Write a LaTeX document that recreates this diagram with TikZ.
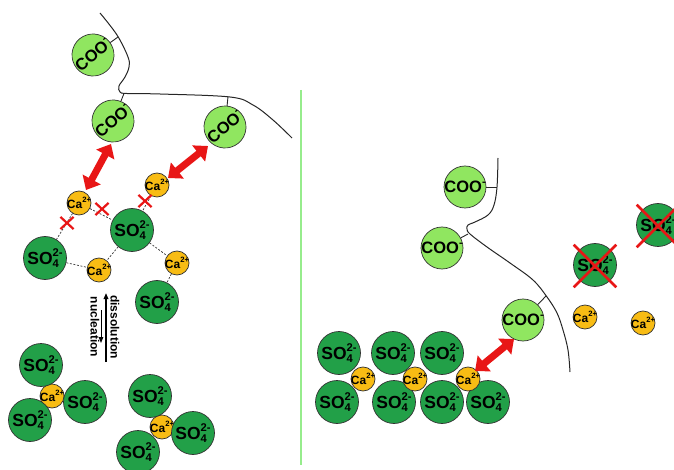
\documentclass[tikz,border=0pt]{standalone}
\usepackage{fontspec}
\setmainfont{Liberation Sans}
\usepackage{graphicx}
\usetikzlibrary{arrows.meta,shapes.misc}

\definecolor{sulfate}{RGB}{34,160,72}
\definecolor{carboxyl}{RGB}{144,230,96}
\definecolor{calcium}{RGB}{248,188,20}
\definecolor{bondred}{RGB}{232,22,22}
\definecolor{divider}{RGB}{150,236,140}
\definecolor{rim}{RGB}{50,50,50}

% ion labels: stacked sub/superscripts, zero width so circles keep their size
\newcommand{\scr}[1]{\scalebox{0.64}{#1}}
\newcommand{\sulf}{\makebox[0pt]{SO\rlap{\raisebox{-0.3ex}{\scr{4}}}\raisebox{0.85ex}{\scr{2-}}}}
\newcommand{\calc}{\makebox[0pt]{Ca\raisebox{0.85ex}{\scr{2+}}}}
\newcommand{\carb}{\makebox[0pt]{COO\raisebox{0.85ex}{\scr{-}}}}

\tikzset{
  ion/.style={circle, draw=rim, line width=0.7pt, inner sep=0pt},
  so/.style={ion, fill=sulfate, minimum size=43pt, font=\bfseries\fontsize{17.5}{17.5}\selectfont},
  ca/.style={ion, fill=calcium, minimum size=24pt, font=\bfseries\fontsize{12}{12}\selectfont},
  coo/.style={ion, fill=carboxyl, minimum size=42pt, font=\bfseries\fontsize{16.5}{16.5}\selectfont},
  chain/.style={line width=1pt, draw=black!85},
  stub/.style={line width=0.9pt, draw=black!85},
  bond/.style={dashed, dash pattern=on 2pt off 1.6pt, line width=0.7pt, draw=black!80},
  nope/.style={cross out, draw=bondred, line width=2.2pt, minimum width=11pt, minimum height=10pt, inner sep=0pt},
  bignope/.style={cross out, draw=bondred, line width=2.6pt, minimum size=40pt, inner sep=0pt},
  bigarrow/.style={draw=bondred, line width=7pt,
    {Triangle[length=12pt,width=20pt]}-{Triangle[length=12pt,width=20pt]}},
  thinarrow/.style={draw=black, -{Triangle[length=6pt,width=4.5pt]}},
  caption/.style={font=\bfseries\fontsize{12}{12}\selectfont, rotate=-90, inner sep=0pt}
}

\begin{document}
\begin{tikzpicture}[x=1pt, y=-1pt]
\useasboundingbox (0,0) rectangle (674,470);

% ---------------- left panel ----------------
% polymer backbone
\draw[chain] plot[smooth, tension=0.6] coordinates {
  (100,13) (117,35) (128,57) (129,67) (125,77) (119,86) (120,92) (127,93.5)
  (160,94) (230,97) (253,105) (273,120) (292,138)};
\coordinate (la1) at (118,37);
\coordinate (la2) at (124,93.5);
\coordinate (la3) at (228,96.5);

\node[coo, rotate=40] (lc1) at (93,55) {\carb};
\node[coo, rotate=40] (lc2) at (113,121) {\carb};
\node[coo, rotate=40] (lc3) at (225,127) {\carb};
\draw[stub] (lc1) -- (la1);
\draw[stub] (lc2) -- (la2);
\draw[stub] (lc3) -- (la3);

% dissolving ion network
\node[ca] (ca1) at (79,203) {\calc};
\node[ca] (ca2) at (157,185) {\calc};
\node[ca] (ca3) at (99,270) {\calc};
\node[ca] (ca4) at (177,263) {\calc};
\node[so] (so1) at (132,230) {\sulf};
\node[so] (so2) at (45,258) {\sulf};
\node[so] (so3) at (157,302) {\sulf};

\draw[bond] (ca1) -- (so2);
\draw[bond] (ca1) -- (so1);
\draw[bond] (ca2) -- (so1);
\draw[bond] (so2) -- (ca3);
\draw[bond] (so1) -- (ca3);
\draw[bond] (so1) -- (ca4);
\draw[bond] (ca4) -- (so3);

\node[nope] (x1) at (67,223) {};
\node[nope] (x2) at (102,209) {};
\node[nope] (x3) at (145,201) {};

% carboxylate--calcium attraction
\coordinate (a1s) at (86,190);
\coordinate (a1e) at (111,144);
\coordinate (a2s) at (168,178);
\coordinate (a2e) at (208,146);
\draw[bigarrow] (a1s) -- (a1e);
\draw[bigarrow] (a2s) -- (a2e);

% dissolution / nucleation equilibrium
\coordinate (up1) at (106,362);
\coordinate (up2) at (106,293);
\coordinate (dn1) at (101,310);
\coordinate (dn2) at (101,343);
\draw[thinarrow, line width=1.5pt] (up1) -- (up2);
\draw[thinarrow, line width=1pt] (dn1) -- (dn2);
\node[caption] (diss) at (115,327) {dissolution};
\node[caption] (nucl) at (95,327) {nucleation};

% small clusters
\node[ca] (k1) at (52,396) {\calc};
\node[so] (k1a) at (41,365) {\sulf};
\node[so] (k1b) at (85,402) {\sulf};
\node[so] (k1c) at (30,420) {\sulf};

\node[ca] (k2) at (162,427) {\calc};
\node[so] (k2a) at (150,396) {\sulf};
\node[so] (k2b) at (193,433) {\sulf};
\node[so] (k2c) at (138,452) {\sulf};

% divider
\coordinate (dv1) at (301,90);
\coordinate (dv2) at (301,465);
\draw[divider, line width=1.5pt] (dv1) -- (dv2);

% ---------------- right panel ----------------
\draw[chain] plot[smooth, tension=0.6] coordinates {
  (498,158) (497,187) (494,205) (488,215) (475,222) (468,225) (467,229)
  (470,234) (487,247) (510,263) (533,280) (547,297) (557,313) (563,330)
  (568,350) (570,372)};
\coordinate (ra1) at (497,187);
\coordinate (ra2) at (468,234);
\coordinate (ra3) at (546,296);

\node[coo] (rc1) at (465,187) {\carb};
\node[coo] (rc2) at (442,248) {\carb};
\node[coo] (rc3) at (523,320) {\carb};
\draw[stub] (rc1) -- (ra1);
\draw[stub] (rc2) -- (ra2);
\draw[stub] (rc3) -- (ra3);

% ions kept out of solution
\node[so] (fs1) at (595,265) {\sulf};
\node[so] (fs2) at (658,225) {\sulf};
\node[bignope] (fx1) at (595,266) {};
\node[bignope] (fx2) at (658,226) {};
\node[ca] (fc1) at (585,317) {\calc};
\node[ca] (fc2) at (643,323) {\calc};

% crystal surface
\node[so] (t1) at (339,353) {\sulf};
\node[so] (t2) at (393,353) {\sulf};
\node[so] (t3) at (442,353) {\sulf};
\node[so] (b1) at (337,402) {\sulf};
\node[so] (b2) at (394,402) {\sulf};
\node[so] (b3) at (442,402) {\sulf};
\node[so] (b4) at (488,402) {\sulf};
\node[ca] (m1) at (363,379) {\calc};
\node[ca] (m2) at (415,379) {\calc};
\node[ca] (m3) at (468,379) {\calc};

\coordinate (a3s) at (475,371);
\coordinate (a3e) at (514,339);
\draw[bigarrow] (a3s) -- (a3e);
\end{tikzpicture}
\end{document}
